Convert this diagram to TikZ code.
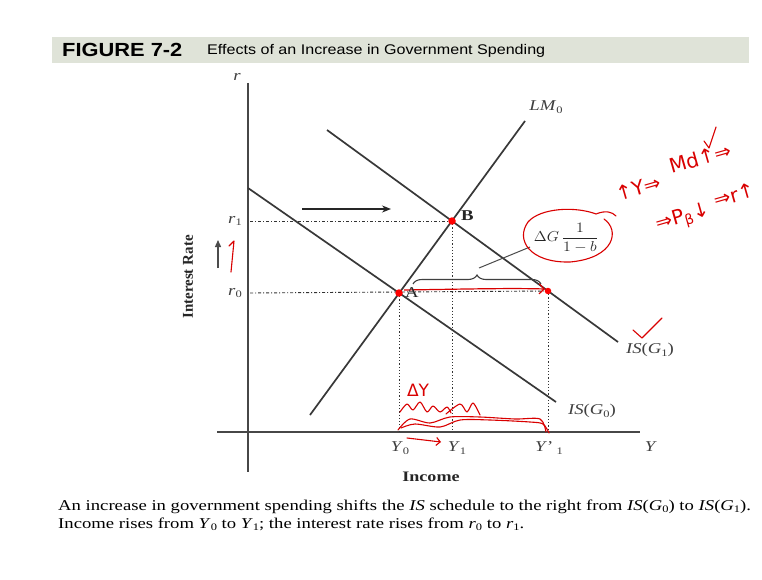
\documentclass[tikz,border=0pt]{standalone}
\usepackage{fontspec}
\setmainfont{Liberation Serif}
\newfontfamily\titlefont{Liberation Sans}
\newfontfamily\handfont{DejaVu Sans}
\usetikzlibrary{arrows.meta,decorations.pathreplacing,calc}
\definecolor{band}{HTML}{DFE3D8}
\newcommand\sbs[1]{\raisebox{-0.35ex}{\fontsize{10}{10}\selectfont #1}}
\newcommand\csbs[1]{\raisebox{-0.3ex}{\fontsize{10}{10}\selectfont #1}}
\newcommand\wx[1]{\scalebox{1.25}[1]{#1}}
\begin{document}
\begin{tikzpicture}[x=1pt,y=-1pt,
  curve/.style={draw=black!78, line width=1.7pt},
  axisline/.style={draw=black!72, line width=1.4pt},
  hguide/.style={draw=black!80, line width=0.9pt, dash pattern=on 3pt off 2pt on 1pt off 2pt},
  vguide/.style={draw=black!80, line width=0.9pt, dash pattern=on 1.2pt off 2pt},
  lbl/.style={font=\fontsize{15}{15}\selectfont, text=black!75, inner sep=0pt},
  pt/.style={circle, fill=red, inner sep=0pt, minimum size=7.5pt},
  hand/.style={draw=red!85!black, line width=1.1pt, line cap=round, line join=round},
  handtxt/.style={text=red!85!black, font=\handfont\fontsize{20}{20}\selectfont, inner sep=0pt}]
\useasboundingbox (0,0) rectangle (762,580);
\fill[white] (0,0) rectangle (762,580);
% title band
\fill[band] (52,37) rectangle (749,63);
\node[anchor=west, inner sep=0pt] (fig) at (62,50) {\titlefont\scalebox{1.15}[1]{\bfseries\fontsize{19}{19}\selectfont FIGURE 7-2}};
\node[anchor=west, inner sep=0pt] (ttl) at (207,51) {\titlefont\scalebox{1.15}[1]{\fontsize{14}{14}\selectfont Effects of an Increase in Government Spending}};
% axes
\coordinate (vtop) at (248,83);
\coordinate (vbot) at (248,472);
\coordinate (hl) at (217,432);
\coordinate (hr) at (640,432);
\draw[axisline] (vtop) -- (vbot);
\draw[axisline] (hl) -- (hr);
% key points
\coordinate (A) at (399,293);
\coordinate (B) at (452,221);
\coordinate (C) at (548,291);
\coordinate (rA) at (250,293);
\coordinate (rB) at (250,221);
\coordinate (xA) at (399,431);
\coordinate (xB) at (452,431);
\coordinate (xC) at (548,431);
% guides
\draw[hguide] (rB) -- (B);
\draw[hguide] (rA) -- (C);
\draw[vguide] (A) -- (xA);
\draw[vguide] (B) -- (xB);
\draw[vguide] (C) -- (xC);
% curves
\coordinate (lm1) at (310,415);
\coordinate (lm2) at (525,121);
\coordinate (is0a) at (248,188);
\coordinate (is0b) at (556,402);
\coordinate (is1a) at (327,130);
\coordinate (is1b) at (618,342);
\draw[curve] (lm1) -- (lm2);
\draw[curve] (is0a) -- (is0b);
\draw[curve] (is1a) -- (is1b);
% shift arrow
\coordinate (sh1) at (302,209);
\coordinate (sh2) at (391,209);
\draw[black!85, line width=1.4pt, -{Stealth[length=9pt,width=7pt]}] (sh1) -- (sh2);
% brace
\coordinate (br1) at (413,284);
\coordinate (br2) at (541,284);
\draw[black!75, line width=1.1pt, decorate, decoration={brace, amplitude=9pt}] (br1) -- (br2);
\coordinate (brtip) at (479,268);
\coordinate (dgend) at (530,247);
\draw[black!70, line width=1pt] (brtip) -- (dgend);
% red arrow A -> C
\draw[red!85!black, line width=1.2pt, -{Straight Barb[length=5pt]}] ($(A)+(5,-3)$) .. controls (470,289) and (510,288) .. ($(C)+(-3,-2)$);
% points
\node[pt] (pA) at (A) {};
\node[pt] (pB) at (B) {};
\node[pt, minimum size=6.5pt] (pC) at (C) {};
% labels
\node[lbl] (rlab) at (237,77) {\wx{\textit{r}}};
\node[lbl, anchor=east] (r1) at (242,221) {\wx{\textit{r}\sbs{1}}};
\node[lbl, anchor=east] (r0) at (242,293) {\wx{\textit{r}\sbs{0}}};
\node[lbl, text=black!85, anchor=west, font=\bfseries\fontsize{15}{15}\selectfont] (Blab) at (461,216) {\wx{B}};
\node[lbl, text=black!85, anchor=west] (Alab) at (405,293) {\wx{A}};
\node[lbl] (LMlab) at (546,107) {\wx{\textit{LM}\sbs{0}}};
\node[lbl] (IS1lab) at (650,350) {\wx{\textit{IS}(\textit{G}\sbs{1})}};
\node[lbl] (IS0lab) at (592,411) {\wx{\textit{IS}(\textit{G}\sbs{0})}};
\node[lbl] (Y0) at (400,448) {\wx{\textit{Y}\sbs{0}}};
\node[lbl] (Y1) at (457,448) {\wx{\textit{Y}\sbs{1}}};
\node[lbl] (Yp1) at (549,448) {\wx{\textit{Y}'\,\sbs{1}}};
\node[lbl] (Ylab) at (651,447) {\wx{\textit{Y}}};
\node[lbl, text=black!85, font=\bfseries\fontsize{14.5}{14.5}\selectfont] (inc) at (431,477) {\wx{Income}};
\node[lbl, text=black!85, rotate=90, font=\bfseries\fontsize{15}{15}\selectfont] (irate) at (188,277) {Interest Rate};
\node[lbl, text=black!85, font=\fontsize{15}{15}\selectfont] (dG) at (566,238) {\scalebox{1.1}[1]{$\Delta G\,\displaystyle\frac{1}{1-b}$}};
% small up arrow
\coordinate (ua1) at (218,268);
\coordinate (ua2) at (218,240);
\draw[black!70, line width=1.3pt, -{Triangle[length=7pt,width=6pt]}] (ua1) -- (ua2);
% red hand annotations
\draw[hand] (231,272) -- (234,241) -- (229,246);
\draw[hand] (604,219) .. controls (620,230) and (615,258) .. (570,262) .. controls (530,263) and (515,240) .. (528,222) .. controls (540,208) and (575,206) .. (596,214) .. controls (606,210) and (612,212) .. (616,216);
\node[handtxt, rotate=16] (h1a) at (638,188) {↑Y⇒};
\node[handtxt, rotate=16] (h1b) at (700,158) {Md↑⇒};
\node[handtxt, rotate=16] (h2a) at (683,219) {⇒P\textsubscript{β}↓};
\node[handtxt, rotate=16] (h2b) at (734,195) {⇒r↑};
\draw[hand] (704,141) -- (709,148) -- (716,127);
\draw[hand] (633,330) -- (642,338) -- (662,318);
\node[handtxt, font=\handfont\fontsize{17}{17}\selectfont] (dY) at (418,390) {ΔY};
\draw[hand] plot[smooth] coordinates {(400,412) (407,404) (413,410) (420,402) (427,412) (433,406) (440,412) (447,407) (451,413)};
\draw[hand] plot[smooth] coordinates {(446,414) (460,404) (467,412) (473,403) (480,415)};
\draw[hand] plot[smooth] coordinates {(398,430) (410,419) (430,423) (450,417) (480,417) (515,419) (540,419) (546,432)};
\draw[hand] plot[smooth] coordinates {(401,428) (415,424) (440,427) (460,420) (490,420) (530,422) (543,424) (549,433)};
\draw[hand, -{Straight Barb[length=4pt]}] (407,438) -- (441,442);
% caption
\node[anchor=base west, inner sep=0pt, font=\fontsize{15}{15}\selectfont] (cap1) at (58,510) {\scalebox{1.245}[1]{An increase in government spending shifts the \textit{IS} schedule to the right from \textit{IS}(\textit{G}\csbs{0}) to \textit{IS}(\textit{G}\csbs{1}).}};
\node[anchor=base west, inner sep=0pt, font=\fontsize{15}{15}\selectfont] (cap2) at (58,528) {\scalebox{1.245}[1]{Income rises from \textit{Y}\csbs{0} to \textit{Y}\csbs{1}; the interest rate rises from \textit{r}\csbs{0} to \textit{r}\csbs{1}.}};
\end{tikzpicture}
\end{document}
